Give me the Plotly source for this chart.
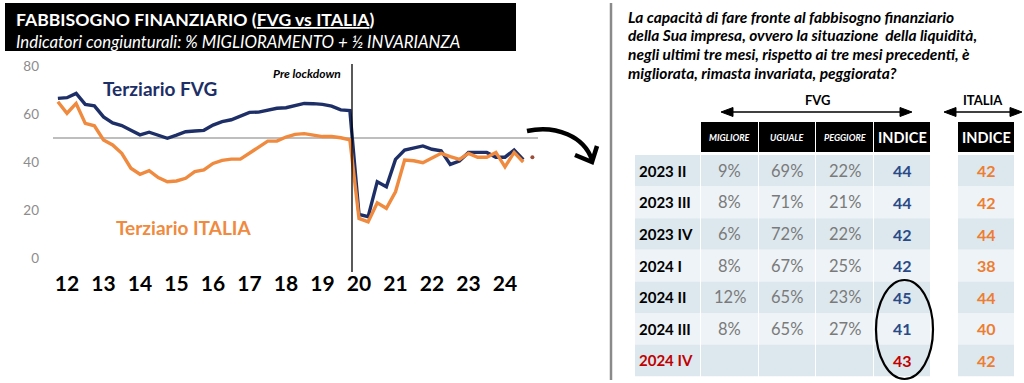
import plotly.graph_objects as go

W, H = 1024, 383

# ---------------- data ----------------
quarters = ["2011 Q4"] + [f"{y} Q{q}" for y in range(2012, 2024) for q in range(1, 5)] + ["2024 Q1", "2024 Q2", "2024 Q3"]

fvg = [66.5, 66.8, 68.6, 64.0, 63.4, 58.8, 56.3, 55.2, 53.2, 51.3,
       52.4, 51.1, 49.9, 51.2, 52.6, 52.9, 53.2, 55.4, 56.8, 57.6,
       59.2, 60.7, 60.8, 61.5, 62.4, 62.6, 63.5, 64.4, 64.3, 64.0,
       63.3, 61.7, 61.4, 18.2, 17.2, 31.8, 29.7, 41.1, 45.0, 45.7,
       46.7, 45.3, 44.7, 39.0, 40.4, 44.0, 44.0, 44.0, 42.0, 42.0,
       45.0, 41.0]

italia = [65.1, 60.3, 64.4, 56.1, 55.1, 49.2, 47.1, 43.6, 37.4, 34.9,
          36.4, 33.5, 31.8, 32.1, 33.2, 36.0, 36.7, 39.4, 40.7, 41.2,
          41.2, 43.6, 46.4, 48.7, 48.7, 50.4, 51.5, 51.8, 51.2, 50.6,
          50.6, 50.1, 49.2, 16.5, 15.1, 23.0, 20.7, 27.6, 40.8, 40.5,
          39.7, 41.5, 43.6, 42.2, 41.1, 43.6, 42.0, 42.0, 44.0, 38.0,
          44.0, 40.0]

italia_next_quarter = "2024 Q4"
italia_next_value = 42

year_ticks = list(range(2012, 2025))
year_labels = [str(y)[2:] for y in year_ticks]
y_ticks = [0, 20, 40, 60, 80]
reference_level = 50

question_lines = [
    "La capacità di fare fronte al fabbisogno finanziario",
    "della Sua impresa, ovvero la situazione  della liquidità,",
    "negli ultimi tre mesi, rispetto ai tre mesi precedenti, è",
    "migliorata, rimasta invariata, peggiorata?",
]

periods = ["2023 II", "2023 III", "2023 IV", "2024 I", "2024 II", "2024 III", "2024 IV"]
migliore = ["9%", "8%", "6%", "8%", "12%", "8%", ""]
uguale = ["69%", "71%", "72%", "67%", "65%", "65%", ""]
peggiore = ["22%", "21%", "22%", "25%", "23%", "27%", ""]
indice_fvg = [44, 44, 42, 42, 45, 41, 43]
indice_italia = [42, 42, 44, 38, 44, 40, 42]

# ---------------- helpers ----------------
def qpos(label):
    y, q = label.split(" Q")
    return int(y) + (int(q) - 1) / 4

def X(px):
    return px / W

def Y(py):
    return 1 - py / H

def t_of(px):
    return 2012 + (px - 67) / 36.5

def v_of(py):
    return (258 - py) / 2.4

def P(px, py):
    return f"{X(px):.5f},{Y(py):.5f}"

NAVY = "#1d2f66"
ORANGE = "#ef8a3e"
FONT = "Lato"

xs = [qpos(q) for q in quarters]

fig = go.Figure()
fig.add_trace(go.Scatter(x=xs, y=fvg, mode="lines", line=dict(color=NAVY, width=3.4),
                         hoverinfo="skip", showlegend=False))
fig.add_trace(go.Scatter(x=xs, y=italia, mode="lines", line=dict(color=ORANGE, width=3.4),
                         hoverinfo="skip", showlegend=False))
fig.add_trace(go.Scatter(x=[qpos(italia_next_quarter)], y=[italia_next_value], mode="markers",
                         marker=dict(color="#9b4d3a", size=4), hoverinfo="skip", showlegend=False))

shapes = []
annotations = []

def text(t, px, py, size, color="black", xanchor="left", **font_kw):
    annotations.append(dict(text=t, xref="paper", yref="paper", x=X(px), y=Y(py),
                            xanchor=xanchor, yanchor="middle", showarrow=False,
                            font=dict(family=FONT, size=size, color=color, **font_kw)))

# reference line at 50
shapes.append(dict(type="line", xref="x", yref="y", x0=t_of(53), x1=t_of(538),
                   y0=reference_level, y1=reference_level, line=dict(color="#7f7f7f", width=1.2), layer="below"))
# pre lockdown vertical line
shapes.append(dict(type="line", xref="x", yref="paper", x0=t_of(352), x1=t_of(352),
                   y0=Y(272), y1=Y(64), line=dict(color="black", width=1.3)))
text("<b><i>Pre lockdown</i></b>", 343, 74, 12, xanchor="right")
text("<b>Terziario FVG</b>", 101, 88, 19, NAVY)
text("<b>Terziario ITALIA</b>", 114, 227, 19, ORANGE)

# title block
shapes.append(dict(type="rect", xref="paper", yref="paper", x0=X(5), x1=X(516), y0=Y(51), y1=Y(3),
                   fillcolor="black", line=dict(width=0)))
text("<b>FABBISOGNO FINANZIARIO (<span style='text-decoration:underline'>FVG vs ITALIA</span>)</b>",
     14, 19, 17.6, "white")
text("<i>Indicatori congiunturali: % MIGLIORAMENTO + ½ INVARIANZA</i>", 14, 41.5, 16.8, "white")

# curved arrow
shapes.append(dict(type="path", xref="paper", yref="paper",
                   path=f"M{P(527,131)} C{P(556,125)} {P(584,136)} {P(592,160)}",
                   line=dict(color="black", width=4.5)))
shapes.append(dict(type="path", xref="paper", yref="paper",
                   path=f"M{P(575,155)} L{P(592,162)} L{P(597,146)}",
                   line=dict(color="black", width=4.5)))

# separator
shapes.append(dict(type="line", xref="paper", yref="paper", x0=X(611), x1=X(611), y0=Y(380), y1=Y(3),
                   line=dict(color="#8a8a8a", width=2.5)))

# question
for i, line in enumerate(question_lines):
    text(line, 626, 17 + i * 18.5, 15.5, "black", weight="bold", style="italic")

# table headers
text("<b>FVG</b>", 818, 100, 13, xanchor="center")
text("<b>ITALIA</b>", 983, 100, 13, xanchor="center")

def double_arrow(x0, x1, y):
    shapes.append(dict(type="line", xref="paper", yref="paper", x0=X(x0 + 6), x1=X(x1 - 6), y0=Y(y), y1=Y(y),
                       line=dict(color="black", width=1.6)))
    shapes.append(dict(type="path", xref="paper", yref="paper",
                       path=f"M{P(x0,y)} L{P(x0+12,y-4.5)} L{P(x0+12,y+4.5)} Z",
                       fillcolor="black", line=dict(color="black", width=1)))
    shapes.append(dict(type="path", xref="paper", yref="paper",
                       path=f"M{P(x1,y)} L{P(x1-12,y-4.5)} L{P(x1-12,y+4.5)} Z",
                       fillcolor="black", line=dict(color="black", width=1)))

double_arrow(721, 912, 112)
double_arrow(944, 1022, 112)

col_bounds = [(701, 758), (759, 815), (816, 873), (874, 930), (958, 1014)]
col_heads = ["MIGLIORE", "UGUALE", "PEGGIORE", "INDICE", "INDICE"]
for (a, b), name in zip(col_bounds, col_heads):
    shapes.append(dict(type="rect", xref="paper", yref="paper", x0=X(a), x1=X(b), y0=Y(152), y1=Y(122),
                       fillcolor="black", line=dict(width=0)))
    if name == "INDICE":
        text("<b>INDICE</b>", (a + b) / 2, 137, 14.5, "white", xanchor="center")
    else:
        text(f"<b><i>{name}</i></b>", (a + b) / 2, 137, 9, "white", xanchor="center")

row_top = 155
row_h = 31.6
for i, per in enumerate(periods):
    y0 = row_top + i * row_h
    y1 = y0 + row_h
    yc = (y0 + y1) / 2
    fill = "#dde8ee" if i % 2 == 0 else "#edf3f6"
    for a, b in [(635, 700), (701, 758), (759, 815), (816, 873), (874, 930), (958, 1014)]:
        shapes.append(dict(type="rect", xref="paper", yref="paper", x0=X(a), x1=X(b), y0=Y(y1), y1=Y(y0),
                           fillcolor=fill, line=dict(width=0), layer="below"))
    last = (i == len(periods) - 1)
    text(f"<b>{per}</b>", 637, yc, 15, "#c00000" if last else "black")
    for (a, b), val in zip(col_bounds[:3], [migliore[i], uguale[i], peggiore[i]]):
        if val:
            text(val, (a + b) / 2, yc, 16.5, "#7a7a7a", xanchor="center")
    a, b = col_bounds[3]
    text(f"<b>{indice_fvg[i]}</b>", (a + b) / 2, yc, 16, "#c00000" if last else "#2a4a86", xanchor="center")
    a, b = col_bounds[4]
    text(f"<b>{indice_italia[i]}</b>", (a + b) / 2, yc, 16, "#ed7d31", xanchor="center")

# ellipse highlight
shapes.append(dict(type="circle", xref="paper", yref="paper", x0=X(876), x1=X(933), y0=Y(379), y1=Y(280),
                   line=dict(color="black", width=2.2)))

fig.update_layout(
    width=W, height=H,
    margin=dict(l=0, r=0, t=0, b=0),
    paper_bgcolor="white", plot_bgcolor="rgba(0,0,0,0)",
    shapes=shapes, annotations=annotations,
    xaxis=dict(domain=[X(40), X(560)], range=[t_of(40), t_of(560)],
               tickvals=year_ticks, ticktext=year_labels, showgrid=False, zeroline=False, showline=False,
               ticks="", tickfont=dict(family=FONT, size=21, color="black", weight="bold")),
    yaxis=dict(domain=[Y(269), Y(58)], range=[v_of(269), v_of(58)],
               tickvals=y_ticks, showgrid=False, zeroline=False, showline=False, ticks="",
               ticklabeloverflow="allow",
               tickfont=dict(family=FONT, size=13.5, color="#8c8c8c")),
)

fig.write_html("out.html", config={"displayModeBar": False},
               post_script="document.body.style.margin='0px';")
